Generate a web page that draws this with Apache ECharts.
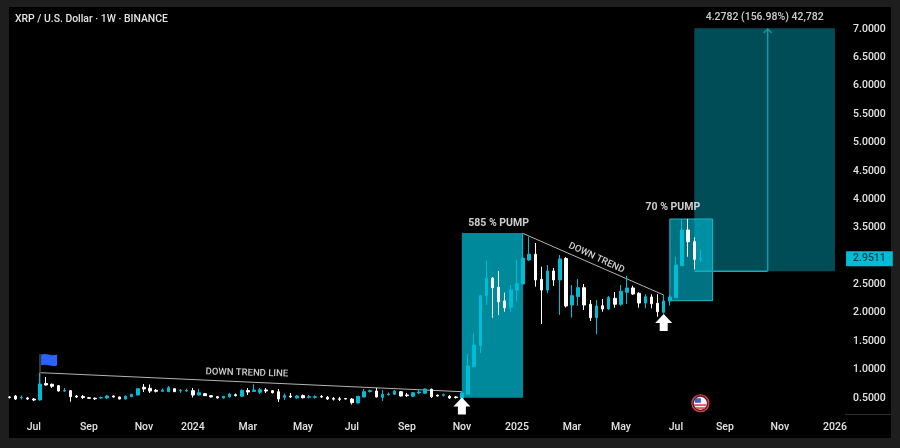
<!DOCTYPE html>
<html>
<head>
<meta charset="utf-8">
<style>
html,body{margin:0;padding:0;width:900px;height:448px;background:#1e1e1e;overflow:hidden}
#panel{position:absolute;left:9px;top:7px;width:882px;height:431px;background:#000}
#chart{position:absolute;left:0;top:0;width:900px;height:448px}
</style>
<script src="https://cdn.jsdelivr.net/npm/echarts@6/dist/echarts.min.js"></script>
</head>
<body>
<div id="panel"></div>
<div id="chart"></div>
<script>
const titleText = 'XRP / U.S. Dollar · 1W · BINANCE';
const firstWeek = '2023-06-05';
const weekCount = 137;

const opens = [
.518,.535,.504,.50,.482,.465,.755,.741,.717,.623,
.629,.535,.526,.505,.496,.50,.50,.535,.518,.482,
.523,.553,.688,.671,.636,.618,.611,.664,.623,.623,
.629,.553,.576,.541,.523,.50,.518,.558,.53,.632,
.614,.60,.641,.629,.611,.512,.535,.50,.541,.512,
.512,.528,.512,.491,.486,.491,.482,.412,.518,.614,
.623,.512,.558,.565,.611,.553,.53,.588,.583,.653,
.548,.548,.53,.518,.495,.57,1.051,1.421,2.297,2.609,
2.45,2.209,2.098,2.402,2.508,2.931,3.031,2.591,2.402,2.737,
2.579,2.957,2.138,2.288,2.443,2.151,1.914,2.126,2.068,2.256,
2.151,2.362,2.438,2.344,2.173,2.279,2.168,2.01,2.209,2.267,
2.83,3.459,3.253,2.944];
const closes = [
.509,.482,.512,.482,.465,.747,.729,.706,.623,.634,
.523,.518,.509,.495,.486,.509,.535,.518,.482,.53,
.565,.664,.659,.623,.618,.641,.681,.611,.634,.634,
.553,.593,.541,.518,.50,.53,.57,.541,.636,.606,
.641,.646,.623,.593,.482,.541,.518,.535,.505,.523,
.523,.518,.482,.479,.475,.482,.417,.53,.611,.629,
.518,.565,.57,.623,.535,.541,.593,.606,.659,.523,
.535,.558,.50,.507,.588,1.064,1.434,2.302,2.609,2.443,
2.196,2.091,2.402,2.513,2.961,3.031,2.579,2.402,2.737,2.579,
2.949,2.121,2.302,2.443,2.138,1.914,2.121,2.068,2.267,2.151,
2.38,2.438,2.332,2.173,2.284,2.161,2.02,2.209,2.279,2.843,
3.459,3.253,2.943,2.9511];
const lows = [
.491,.465,.474,.465,.447,.456,.72,.676,.614,.606,
.435,.50,.482,.482,.465,.486,.482,.509,.474,.474,
.518,.544,.606,.588,.597,.606,.606,.606,.588,.606,
.509,.544,.535,.509,.491,.491,.509,.526,.526,.553,
.606,.57,.588,.579,.43,.465,.50,.491,.491,.491,
.491,.50,.465,.456,.447,.474,.386,.403,.509,.597,
.509,.447,.544,.553,.526,.518,.518,.57,.579,.50,
.526,.526,.482,.491,.486,.562,1.046,1.293,2.138,1.914,
1.962,2.02,2.02,2.196,2.499,2.913,2.461,1.804,2.344,2.473,
1.962,2.094,1.914,2.126,2.05,1.856,1.622,2.02,2.05,2.091,
2.126,2.156,2.314,2.091,2.08,2.08,1.932,1.985,2.126,2.262,
2.825,2.989,2.767,2.901];
const highs = [
.535,.553,.544,.518,.50,.94,.87,.755,.729,.676,
.641,.553,.553,.518,.509,.521,.553,.544,.526,.544,
.57,.667,.747,.738,.659,.667,.711,.667,.659,.667,
.676,.659,.588,.549,.535,.535,.588,.579,.65,.676,
.741,.676,.676,.641,.659,.579,.588,.553,.562,.553,
.548,.553,.535,.518,.518,.50,.50,.535,.659,.65,
.676,.641,.597,.641,.623,.588,.606,.65,.667,.667,
.562,.579,.553,.535,.606,1.275,1.64,2.314,2.919,2.631,
2.737,2.355,2.49,2.931,3.401,3.341,3.23,2.813,2.843,2.79,
3.019,2.984,2.49,2.596,2.508,2.226,2.226,2.244,2.297,2.367,
2.49,2.654,2.478,2.362,2.327,2.327,2.327,2.314,2.314,2.989,
3.653,3.653,3.331,3.107];

const xTickIndex = [4,13,22,30,39,48,56,65,74,83,92,100,109,117,126,135];
const xTickLabels = ['Jul','Sep','Nov','2024','Mar','May','Jul','Sep','Nov','2025','Mar','May','Jul','Sep','Nov','2026'];
const yTicks = [0.5,1,1.5,2,2.5,3.5,4,4.5,5,5.5,6,6.5,7];
const lastPrice = 2.9511;

// shaded boxes: dark target zone, first pump, second pump
const boxStart  = [112,74,108];
const boxEnd    = [135,84,115];
const boxTop    = [7.012,3.406,3.653];
const boxBottom = [2.732,0.505,2.214];
const boxFill   = ['#004c57','#00899a','rgba(0,190,215,0.6)'];
const boxStroke = [null,null,'#1fb6c9'];

// straight lines: trend lines, flag pole, position tool
const lineX1 = [5,84,5,112,124];
const lineY1 = [0.946,3.398,1.275,2.732,2.732];
const lineX2 = [74,107,5,124,124];
const lineY2 = [0.611,2.314,0.76,2.732,7.0];
const lineColor = ['#b4b4b4','#b4b4b4','#4a4a4a','#17a9bc','#0f9bae'];
const lineWidth = [1,1,1.5,1.5,1.5];

const noteText   = ['585 % PUMP','70 % PUMP','DOWN TREND LINE','DOWN TREND','4.2782 (156.98%) 42,782'];
const noteIndex  = [80,108,39,96,124];
const notePrice  = [3.583,3.864,0.94,2.966,7.211];
const noteRotate = [0,0,-1.5,-25,0];
const noteShift  = [0,3,-1,0,-3];
const noteSize   = [10.5,10.5,9.5,9.5,10.5];
const noteWeight = [700,700,500,500,500];

const arrowIndex = [74,107];
const arrowPrice = [0.359,1.83];
const flagIndex = 6, flagPrice = 1.169;
const eventIndex = 113, eventPrice = 0.407;

const FONT = 'Roboto,"Open Sans",sans-serif';
const categories = [];
{ const t0 = Date.parse(firstWeek + 'T00:00:00Z');
  for (let i = 0; i < weekCount; i++) categories.push(new Date(t0 + i * 7 * 864e5).toISOString().slice(0,10)); }

const chart = echarts.init(document.getElementById('chart'), null, {renderer:'canvas', width:900, height:448});

function boxItem(params, api){
  const i = params.dataIndex;
  const a = api.coord([boxStart[i], boxTop[i]]);
  const b = api.coord([boxEnd[i], boxBottom[i]]);
  return {type:'rect', shape:{x:a[0], y:a[1], width:b[0]-a[0], height:b[1]-a[1]},
    style:{fill:boxFill[i], stroke:boxStroke[i], lineWidth:boxStroke[i]?1:0}};
}
function lineItem(params, api){
  const i = params.dataIndex;
  const a = api.coord([lineX1[i], lineY1[i]]);
  const b = api.coord([lineX2[i], lineY2[i]]);
  const kids = [{type:'line', shape:{x1:a[0],y1:a[1],x2:b[0],y2:b[1]}, style:{stroke:lineColor[i], lineWidth:lineWidth[i]}}];
  if (i === lineX1.length-1) kids.push({type:'polyline', shape:{points:[[b[0]-4,b[1]+4],[b[0],b[1]],[b[0]+4,b[1]+4]]},
    style:{stroke:lineColor[i], lineWidth:1.2, fill:null}});
  return {type:'group', children:kids};
}
function eventItem(params, api){
  const c = api.coord([eventIndex, eventPrice]);
  const x = c[0], y = c[1];
  return {type:'group', children:[
    {type:'circle', shape:{cx:x,cy:y,r:8.5}, style:{fill:'#5a1a22', stroke:'#e0404e', lineWidth:1.2}},
    {type:'circle', shape:{cx:x,cy:y,r:6.5}, style:{fill:'#f2f2f6'}},
    {type:'rect', shape:{x:x-5.5,y:y-5,width:6,height:4.5}, style:{fill:'#3f5fc8'}},
    {type:'rect', shape:{x:x-6,y:y+1,width:12,height:1.6}, style:{fill:'#e0404e'}},
    {type:'rect', shape:{x:x-4.5,y:y+4,width:9,height:1.6}, style:{fill:'#e0404e'}}
  ]};
}

chart.setOption({
  animation:false,
  backgroundColor:'transparent',
  textStyle:{fontFamily:FONT},
  title:{text:titleText, left:15, top:14, padding:0,
    textStyle:{color:'#e4e4e4', fontSize:10.4, fontWeight:500, fontFamily:FONT}},
  grid:{left:9.4, top:7, width:831.64, height:407, containLabel:false},
  xAxis:{type:'category', data:categories, boundaryGap:false,
    axisLine:{show:false}, axisTick:{show:false}, splitLine:{show:false},
    axisLabel:{color:'#e4e4e4', fontSize:10.5, margin:8, fontWeight:500, fontFamily:FONT,
      hideOverlap:false, showMinLabel:true, showMaxLabel:true,
      interval:(idx)=>xTickIndex.includes(idx),
      formatter:(v,idx)=>xTickLabels[xTickIndex.indexOf(idx)] || ''}},
  yAxis:{type:'value', position:'right', min:0.218, max:7.387, scale:true,
    axisLine:{show:false}, axisTick:{show:false}, splitLine:{show:false},
    axisLabel:{show:true, customValues:yTicks.concat([lastPrice]), margin:5, align:'left', color:'#e4e4e4', fontSize:10.5, fontFamily:FONT,
      formatter:(v)=> Math.abs(v-lastPrice)<1e-6 ? '{b|'+v.toFixed(4)+'}' : '{a|'+v.toFixed(4)+'}',
      rich:{a:{color:'#e4e4e4',fontSize:10.5,fontWeight:500,padding:[0,0,0,7],fontFamily:FONT},
            b:{color:'#073b45',fontSize:10.5,fontWeight:500,backgroundColor:'#00bcd4',padding:[2,7,2,7],fontFamily:FONT}}}},
  graphic:[{type:'line', shape:{x1:845,y1:414.5,x2:891,y2:414.5}, style:{stroke:'#2e2e2e',lineWidth:1}, silent:true}],
  series:[
    {type:'custom', name:'zones', z:1, silent:true, renderItem:boxItem, clip:false,
      encode:{x:0,y:1}, data:boxStart.map((s,i)=>[s,boxTop[i]])},
    {type:'custom', name:'lines', z:1, silent:true, renderItem:lineItem, clip:false,
      encode:{x:0,y:1}, data:lineX1.map((s,i)=>[s,lineY1[i]])},
    {type:'candlestick', name:'XRPUSD', z:2, barWidth:3, silent:true,
      itemStyle:{color:'#00bcd4', color0:'#ffffff', borderColor:'#00bcd4', borderColor0:'#ffffff', borderWidth:1},
      data:opens.map((o,i)=>[o,closes[i],lows[i],highs[i]])},
    {type:'scatter', name:'arrows', z:3, silent:true, clip:false,
      symbol:'path://M8.5,0 L17,9 L12.5,9 L12.5,17 L4.5,17 L4.5,9 L0,9 Z', symbolSize:[17,17],
      itemStyle:{color:'#ffffff', opacity:1}, data:arrowIndex.map((x,i)=>[x,arrowPrice[i]])},
    {type:'scatter', name:'flag', z:3, silent:true, clip:false,
      symbol:'path://M0,1 C5,-1 10,3 16,1 L16,12 C10,14 5,10 0,12 Z', symbolSize:[16,12], symbolOffset:[3,0],
      itemStyle:{color:'#2962ff', opacity:1}, data:[[flagIndex,flagPrice]]},
    {type:'custom', name:'event', z:3, silent:true, renderItem:eventItem, clip:false,
      encode:{x:0,y:1}, data:[[eventIndex,eventPrice]]},
    {type:'scatter', name:'notes', z:4, silent:true, clip:false, symbolSize:0,
      data:noteText.map((t,i)=>({value:[noteIndex[i],notePrice[i]],
        label:{show:true, position:'inside', formatter:t, rotate:noteRotate[i], offset:[noteShift[i],0],
          color:'#ffffff', fontSize:noteSize[i], fontWeight:noteWeight[i], fontFamily:FONT}}))}
  ]
});
</script>
</body>
</html>
